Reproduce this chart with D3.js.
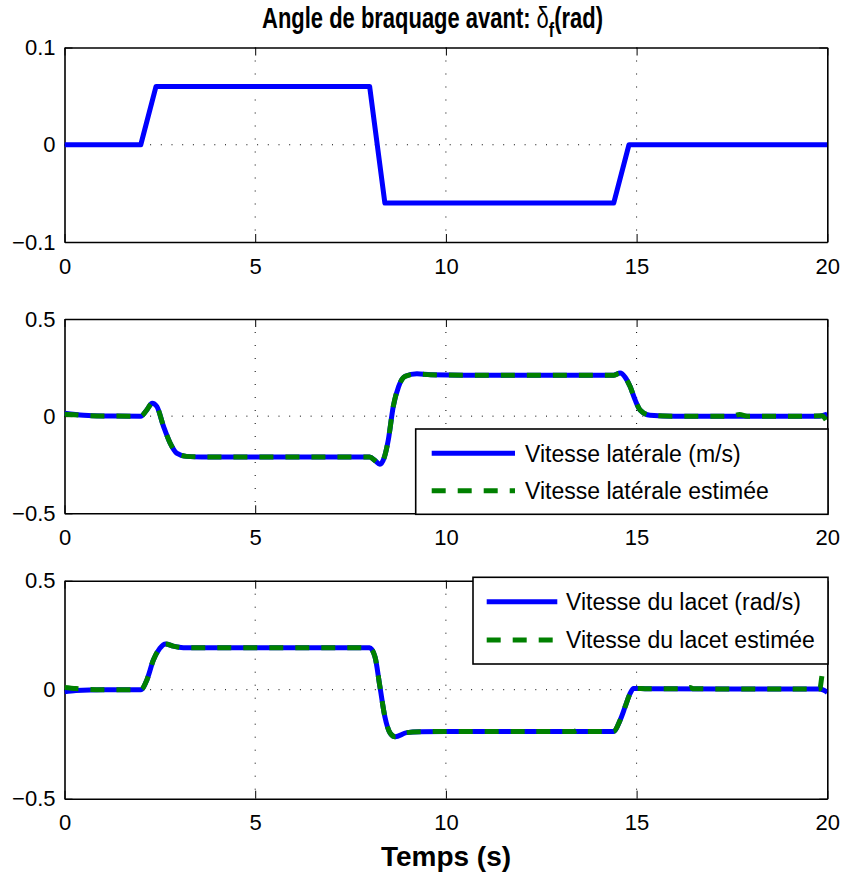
<!DOCTYPE html>
<html>
<head>
<meta charset="utf-8">
<script src="https://cdn.jsdelivr.net/npm/d3@7"></script>
<style>
  html, body { margin: 0; padding: 0; background: #fff; }
  svg { display: block; font-family: "Liberation Sans", Arial, Helvetica, sans-serif; }
</style>
</head>
<body>
<svg id="chart" width="843" height="884"></svg>
<script>
// ---------------- DATA ----------------
const xTicks = [0, 5, 10, 15, 20];
const xTickLabels = ["0", "5", "10", "15", "20"];

const steerTicks = [-0.1, 0, 0.1];
const steerTickLabels = ["\u22120.1", "0", "0.1"];
const velTicks = [-0.5, 0, 0.5];
const velTickLabels = ["\u22120.5", "0", "0.5"];

// Steering angle (rad)
const steerT = [0, 2, 2.4, 8, 8.4, 14.4, 14.8, 20];
const steerV = [0, 0, 0.06, 0.06, -0.06, -0.06, 0, 0];

// Lateral velocity (m/s)
const latT = [0, 0.5, 1, 2, 2.15, 2.3, 2.42, 2.6, 2.77, 2.94, 3.2, 3.6, 8.0, 8.15, 8.27, 8.38, 8.49, 8.62, 8.76, 8.93, 9.24, 9.6, 10.5, 14.4, 14.57, 14.7, 14.83, 14.96, 15.09, 15.35, 16, 19.8, 20];
const latV = [0.015, 0.005, 0.001, 0, 0.03, 0.067, 0.05, -0.055, -0.139, -0.19, -0.207, -0.21, -0.21, -0.23, -0.248, -0.215, -0.122, 0.05, 0.152, 0.205, 0.218, 0.213, 0.211, 0.211, 0.222, 0.2, 0.152, 0.084, 0.032, 0.005, 0, 0, 0.01];

// Estimated lateral velocity
const latEstT = [0, 0.5, 1, 2, 2.15, 2.3, 2.42, 2.6, 2.77, 2.94, 3.2, 3.6, 8.0, 8.15, 8.27, 8.38, 8.49, 8.62, 8.76, 8.93, 9.24, 9.6, 10.5, 14.4, 14.57, 14.7, 14.83, 14.96, 15.09, 15.35, 16, 17.5, 17.7, 17.9, 19.5, 19.85, 20];
const latEstV = [0.01, 0.004, 0.001, 0, 0.03, 0.066, 0.05, -0.055, -0.139, -0.19, -0.207, -0.21, -0.21, -0.23, -0.247, -0.215, -0.122, 0.05, 0.152, 0.205, 0.217, 0.213, 0.211, 0.211, 0.221, 0.2, 0.152, 0.084, 0.032, 0.005, 0, 0, 0.008, 0, 0, 0.002, -0.03];

// Yaw rate (rad/s)
const yawT = [0, 0.3, 1, 2.0, 2.16, 2.33, 2.5, 2.65, 2.85, 3.12, 3.6, 8.0, 8.14, 8.27, 8.4, 8.54, 8.67, 8.97, 9.32, 10, 14.39, 14.57, 14.7, 14.83, 14.92, 15.3, 19.8, 20];
const yawV = [-0.01, -0.004, 0, 0, 0.045, 0.136, 0.19, 0.21, 0.2, 0.193, 0.192, 0.192, 0.151, 0.014, -0.124, -0.2, -0.216, -0.197, -0.193, -0.192, -0.192, -0.139, -0.078, -0.017, 0.006, 0.004, 0.003, -0.012];

// Estimated yaw rate
const yawEstT = [0, 0.3, 1, 2.0, 2.16, 2.33, 2.5, 2.65, 2.85, 3.12, 3.6, 8.0, 8.14, 8.27, 8.4, 8.54, 8.67, 8.97, 9.32, 10, 12.1, 12.2, 12.3, 13.35, 13.45, 13.55, 14.39, 14.57, 14.7, 14.83, 14.92, 15.3, 16.3, 16.4, 16.5, 18.8, 18.9, 19.0, 19.7, 19.8, 19.88, 20];
const yawEstV = [0.01, 0.005, 0, 0, 0.045, 0.136, 0.19, 0.21, 0.2, 0.193, 0.192, 0.192, 0.151, 0.014, -0.124, -0.2, -0.216, -0.197, -0.193, -0.192, -0.192, -0.186, -0.192, -0.192, -0.186, -0.192, -0.192, -0.139, -0.078, -0.017, 0.006, 0.004, 0.004, 0.01, 0.004, 0.003, 0.01, 0.003, 0.003, 0.003, 0.075, 0.07];

const legend2Labels = ["Vitesse lat\u00e9rale (m/s)", "Vitesse lat\u00e9rale estim\u00e9e"];
const legend3Labels = ["Vitesse du lacet (rad/s)", "Vitesse du lacet estim\u00e9e"];

const titleMain = "Angle de braquage avant: ";
const titleSymbol = "\u03b4";
const titleSub = "f";
const titleEnd = "(rad)";
const xLabel = "Temps (s)";

// ---------------- DRAWING ----------------
const svg = d3.select("#chart");
const BLUE = "#0000ff", GREEN = "#008000";
const left = 64.5, right = 827.3;

const x = d3.scaleLinear().domain([0, 20]).range([left, right]);

const panels = [
  { top: 47.5, bottom: 242, domain: [-0.1, 0.1], ticks: steerTicks, labels: steerTickLabels,
    series: [{ t: steerT, v: steerV, color: BLUE, dash: null, curve: d3.curveLinear }] },
  { top: 319, bottom: 513.3, domain: [-0.5, 0.5], ticks: velTicks, labels: velTickLabels,
    series: [{ t: latT, v: latV, color: BLUE, dash: null, curve: d3.curveMonotoneX },
             { t: latEstT, v: latEstV, color: GREEN, dash: "14,12", curve: d3.curveMonotoneX }],
    legend: { x0: 415.7, x1: 828, y0: 429, y1: 514.3, lx0: 431.7, lx1: 515, tx: 525, rows: [453.3, 490.7], labels: legend2Labels } },
  { top: 580.7, bottom: 798.7, domain: [-0.5, 0.5], ticks: velTicks, labels: velTickLabels,
    series: [{ t: yawT, v: yawV, color: BLUE, dash: null, curve: d3.curveMonotoneX },
             { t: yawEstT, v: yawEstV, color: GREEN, dash: "14,12", curve: d3.curveMonotoneX }],
    legend: { x0: 473, x1: 828, y0: 577.3, y1: 664, lx0: 486.7, lx1: 557.3, tx: 566, rows: [601.7, 640], labels: legend3Labels } }
];

panels.forEach((p, i) => {
  const y = d3.scaleLinear().domain(p.domain).range([p.bottom, p.top]);
  const g = svg.append("g");

  const clipId = "clip" + i;
  svg.append("clipPath").attr("id", clipId)
    .append("rect").attr("x", left).attr("y", p.top)
    .attr("width", right - left).attr("height", p.bottom - p.top);

  // grid (dotted)
  [5, 10, 15].forEach(v => {
    g.append("line").attr("x1", x(v)).attr("x2", x(v)).attr("y1", p.top).attr("y2", p.bottom)
      .attr("stroke", "#000").attr("stroke-width", 1).attr("stroke-dasharray", "1,12");
  });
  g.append("line").attr("x1", left).attr("x2", right).attr("y1", y(0)).attr("y2", y(0))
    .attr("stroke", "#000").attr("stroke-width", 1).attr("stroke-dasharray", "1,9.7");

  // axes
  const axB = d3.axisBottom(x).tickValues(xTicks).tickFormat((d, k) => xTickLabels[k])
    .tickSize(-8).tickSizeOuter(0).tickPadding(16);
  const axT = d3.axisTop(x).tickValues(xTicks).tickFormat("").tickSize(-8).tickSizeOuter(0);
  const axL = d3.axisLeft(y).tickValues(p.ticks).tickFormat((d, k) => p.labels[k])
    .tickSize(-8).tickSizeOuter(0).tickPadding(9);
  const axR = d3.axisRight(y).tickValues(p.ticks).tickFormat("").tickSize(-8).tickSizeOuter(0);

  const gb = g.append("g").attr("transform", `translate(0,${p.bottom})`).call(axB);
  const gt = g.append("g").attr("transform", `translate(0,${p.top})`).call(axT);
  const gl = g.append("g").attr("transform", `translate(${left},0)`).call(axL);
  const gr = g.append("g").attr("transform", `translate(${right},0)`).call(axR);
  [gb, gt, gl, gr].forEach(a => {
    a.selectAll(".domain").attr("stroke", "#000").attr("stroke-width", 1.6);
    a.selectAll(".tick line").attr("stroke", "#000").attr("stroke-width", 1);
    a.selectAll(".tick text").attr("fill", "#000").attr("font-size", 22)
      .attr("font-family", "'Liberation Sans', Arial, sans-serif");
  });

  // series
  const lg = g.append("g").attr("clip-path", `url(#${clipId})`);
  p.series.forEach(s => {
    const pts = s.t.map((t, k) => [t, s.v[k]]);
    const line = d3.line().x(d => x(d[0])).y(d => y(d[1])).curve(s.curve);
    lg.append("path").attr("d", line(pts)).attr("fill", "none")
      .attr("stroke", s.color).attr("stroke-width", 5)
      .attr("stroke-linejoin", "round")
      .attr("stroke-dasharray", s.dash);
  });

  // legend
  if (p.legend) {
    const L = p.legend;
    const lgd = svg.append("g");
    lgd.append("rect").attr("x", L.x0).attr("y", L.y0).attr("width", L.x1 - L.x0).attr("height", L.y1 - L.y0)
      .attr("fill", "#fff").attr("stroke", "#000").attr("stroke-width", 1.6);
    p.series.forEach((s, k) => {
      lgd.append("line").attr("x1", L.lx0).attr("x2", L.lx1).attr("y1", L.rows[k]).attr("y2", L.rows[k])
        .attr("stroke", s.color).attr("stroke-width", 5).attr("stroke-dasharray", s.dash);
      lgd.append("text").attr("x", L.tx).attr("y", L.rows[k]).attr("dy", "0.36em")
        .attr("font-size", 23).attr("fill", "#000").text(L.labels[k]);
    });
  }
});

// title
const titleG = svg.append("g");
const title = titleG.append("text").attr("text-anchor", "middle")
  .attr("font-size", 29).attr("font-weight", "bold").attr("fill", "#000");
title.append("tspan").text(titleMain);
title.append("tspan").attr("font-weight", "normal").text(titleSymbol);
title.append("tspan").attr("font-size", 21).attr("dy", 9).text(titleSub);
title.append("tspan").attr("dy", -9).text(titleEnd);
const tw = title.node().getComputedTextLength();
const sx = 341 / tw;
titleG.attr("transform", `translate(432.5,28) scale(${sx},1)`);

// x label
svg.append("text").attr("x", 446).attr("y", 866).attr("text-anchor", "middle")
  .attr("font-size", 28).attr("font-weight", "bold").attr("fill", "#000").text(xLabel);
</script>
</body>
</html>
